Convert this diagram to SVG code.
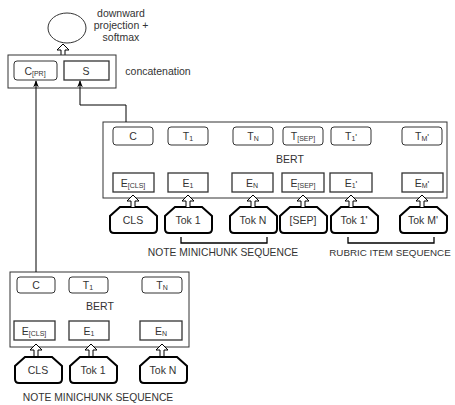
<svg xmlns="http://www.w3.org/2000/svg" xmlns:xlink="http://www.w3.org/1999/xlink" width="455" height="405" viewBox="0 0 455 405">
<style>
text{font-family:"Liberation Sans",Arial,sans-serif;font-size:10.5px;fill:#333;text-anchor:middle}
.sub{font-size:7px}
.seq{font-size:10.3px}
.rub{font-size:9.8px}
.outer{fill:#fff;stroke:#333;stroke-width:1}
.tb{fill:#fff;stroke:#333;stroke-width:1}
.eb{fill:#fff;stroke:#333;stroke-width:1.3}
.tok{fill:#fff;stroke:#000;stroke-width:2}
.ha{fill:#fff;stroke:#000;stroke-width:1}
.con{fill:none;stroke:#000;stroke-width:1}
.br{fill:none;stroke:#000;stroke-width:1.3}
</style>
<defs>
<path id="harrow" d="M-2,12 L-2,6 L-6,6 L0,0 L6,6 L2,6 L2,12"/>
<path id="tokshape" d="M4,26 Q0,26 0,22 L0,9 L10,0 L37,0 L47,9 L47,22 Q47,26 43,26 Z"/>
<marker id="ah" viewBox="0 0 10 10" refX="9" refY="5" markerWidth="7" markerHeight="7" orient="auto"><path d="M0,1 L10,5 L0,9 L3,5 Z" fill="#000"/></marker>
</defs>

<g id="output">
<ellipse cx="67" cy="28" rx="19" ry="15" fill="#fff" stroke="#333"/>
<text x="121" y="17">downward</text>
<text x="121" y="29">projection +</text>
<text x="121" y="41">softmax</text>
<use xlink:href="#harrow" class="ha" x="63" y="44"/>
</g>

<g id="concat">
<rect class="outer" x="8" y="55" width="108" height="33"/>
<rect class="tb" x="14" y="61" width="43" height="19" rx="3"/>
<text x="35" y="75">C<tspan class="sub" dy="1">[PR]</tspan></text>
<rect class="eb" x="64" y="61" width="45" height="19"/>
<text x="86" y="75">S</text>
<text x="158" y="75">concatenation</text>
</g>

<g id="bert-upper">
<rect class="outer" x="103" y="122" width="344" height="76"/>
<rect class="tb" x="113" y="127" width="40" height="18" rx="3"/>
<text x="133" y="140">C</text>
<rect class="tb" x="168" y="127" width="40" height="18" rx="3"/>
<text x="188" y="140">T<tspan class="sub" dy="1">1</tspan></text>
<rect class="tb" x="233" y="127" width="40" height="18" rx="3"/>
<text x="253" y="140">T<tspan class="sub" dy="1">N</tspan></text>
<rect class="tb" x="283" y="127" width="40" height="18" rx="3"/>
<text x="303" y="140">T<tspan class="sub" dy="1">[SEP]</tspan></text>
<rect class="tb" x="331" y="127" width="40" height="18" rx="3"/>
<text x="351" y="140">T<tspan class="sub" dy="1">1</tspan><tspan dy="-1" font-size="9">'</tspan></text>
<rect class="tb" x="402" y="127" width="40" height="18" rx="3"/>
<text x="422" y="140">T<tspan class="sub" dy="1">M</tspan><tspan dy="-1" font-size="9">'</tspan></text>
<text x="290" y="163">BERT</text>
<rect class="eb" x="113" y="173" width="41" height="19"/>
<text x="133" y="187">E<tspan class="sub" dy="1">[CLS]</tspan></text>
<rect class="eb" x="168" y="173" width="40" height="19"/>
<text x="188" y="187">E<tspan class="sub" dy="1">1</tspan></text>
<rect class="eb" x="232" y="173" width="41" height="19"/>
<text x="252" y="187">E<tspan class="sub" dy="1">N</tspan></text>
<rect class="eb" x="282" y="173" width="42" height="19"/>
<text x="303" y="187">E<tspan class="sub" dy="1">[SEP]</tspan></text>
<rect class="eb" x="330" y="173" width="42" height="19"/>
<text x="351" y="187">E<tspan class="sub" dy="1">1</tspan><tspan dy="-1" font-size="9">'</tspan></text>
<rect class="eb" x="402" y="173" width="41" height="19"/>
<text x="422" y="187">E<tspan class="sub" dy="1">M</tspan><tspan dy="-1" font-size="9">'</tspan></text>
</g>

<g id="tokens-upper">
<use xlink:href="#tokshape" class="tok" x="110" y="207"/><text x="133" y="224">CLS</text>
<use xlink:href="#tokshape" class="tok" x="165" y="207"/><text x="188" y="224">Tok 1</text>
<use xlink:href="#tokshape" class="tok" x="230" y="207"/><text x="253" y="224">Tok N</text>
<use xlink:href="#tokshape" class="tok" x="280" y="207"/><text x="303" y="224">[SEP]</text>
<use xlink:href="#tokshape" class="tok" x="331" y="207"/><text x="354" y="224">Tok 1'</text>
<use xlink:href="#tokshape" class="tok" x="400" y="207"/><text x="423" y="224">Tok M'</text>
<use xlink:href="#harrow" class="ha" x="133" y="195"/>
<use xlink:href="#harrow" class="ha" x="188" y="195"/>
<use xlink:href="#harrow" class="ha" x="253" y="195"/>
<use xlink:href="#harrow" class="ha" x="303" y="195"/>
<use xlink:href="#harrow" class="ha" x="351" y="195"/>
<use xlink:href="#harrow" class="ha" x="422" y="195"/>
</g>

<g id="seq-labels-upper">
<path class="br" d="M181,237 L181,243 L267,243 L267,237"/>
<text class="seq" x="223" y="256">NOTE MINICHUNK SEQUENCE</text>
<path class="br" d="M348,237 L348,243 L434,243 L434,237"/>
<text class="rub" x="390" y="256">RUBRIC ITEM SEQUENCE</text>
</g>

<g id="bert-lower">
<rect class="outer" x="10" y="272" width="179" height="75"/>
<rect class="tb" x="17" y="277" width="38" height="16" rx="3"/>
<text x="36" y="289">C</text>
<rect class="tb" x="69" y="277" width="39" height="16" rx="3"/>
<text x="88" y="289">T<tspan class="sub" dy="1">1</tspan></text>
<rect class="tb" x="142" y="277" width="40" height="16" rx="3"/>
<text x="162" y="289">T<tspan class="sub" dy="1">N</tspan></text>
<text x="100" y="310">BERT</text>
<rect class="eb" x="14" y="321" width="41" height="19"/>
<text x="34" y="335">E<tspan class="sub" dy="1">[CLS]</tspan></text>
<rect class="eb" x="69" y="321" width="40" height="19"/>
<text x="89" y="335">E<tspan class="sub" dy="1">1</tspan></text>
<rect class="eb" x="140" y="321" width="42" height="19"/>
<text x="161" y="335">E<tspan class="sub" dy="1">N</tspan></text>
</g>

<g id="tokens-lower">
<use xlink:href="#tokshape" class="tok" x="15" y="357"/><text x="38" y="374">CLS</text>
<use xlink:href="#tokshape" class="tok" x="70" y="357"/><text x="93" y="374">Tok 1</text>
<use xlink:href="#tokshape" class="tok" x="140" y="357"/><text x="163" y="374">Tok N</text>
<use xlink:href="#harrow" class="ha" x="36" y="344"/>
<use xlink:href="#harrow" class="ha" x="91" y="344"/>
<use xlink:href="#harrow" class="ha" x="162" y="344"/>
<text class="seq" x="98" y="401">NOTE MINICHUNK SEQUENCE</text>
</g>

<g id="connectors">
<path class="con" d="M36,272 L36,81" marker-end="url(#ah)"/>
<path class="con" d="M126,122 L126,105 L80,105 L80,81" marker-end="url(#ah)"/>
</g>
</svg>
